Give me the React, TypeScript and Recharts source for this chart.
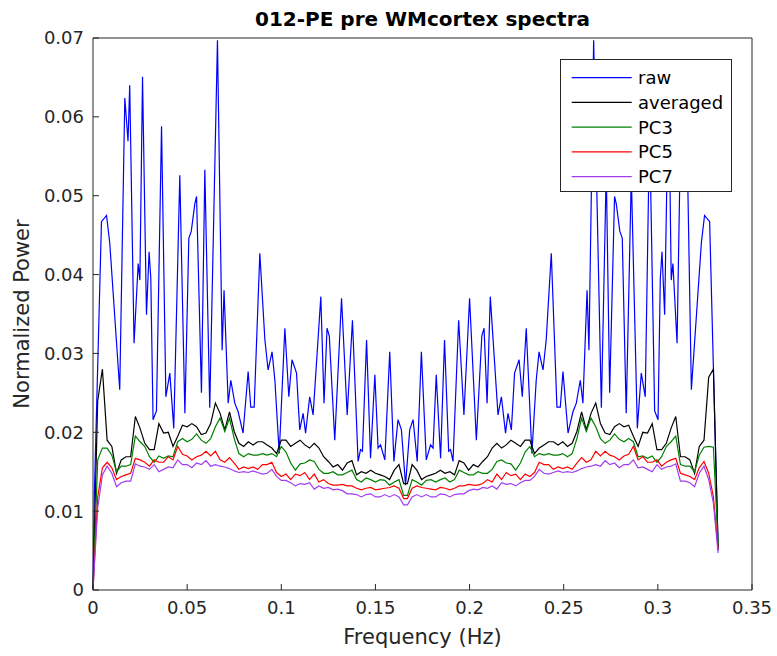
import React from 'react';
import { LineChart, Line, XAxis, YAxis, Legend, Label } from 'recharts';

// frequency grid (Hz) used by the averaged / PC spectra
const gridFreq = [
  0, 0.0025, 0.005, 0.0075, 0.01, 0.0125, 0.015, 0.0175, 0.02, 0.0225, 0.025, 0.0275, 0.03, 0.0325, 0.035, 0.0375,
  0.04, 0.0425, 0.045, 0.0475, 0.05, 0.0525, 0.055, 0.0575, 0.06, 0.0625, 0.065, 0.0675, 0.07, 0.0725, 0.075, 0.0775,
  0.08, 0.0825, 0.085, 0.0875, 0.09, 0.0925, 0.095, 0.0975, 0.1, 0.1025, 0.105, 0.1075, 0.11, 0.1125, 0.115, 0.1175,
  0.12, 0.1225, 0.125, 0.1275, 0.13, 0.1325, 0.135, 0.1375, 0.14, 0.1425, 0.145, 0.1475, 0.15, 0.1525, 0.155, 0.1575,
  0.16, 0.1625, 0.165,
  0.167, 0.1695, 0.172, 0.1745, 0.177, 0.1795, 0.182, 0.1845, 0.187, 0.1895, 0.192, 0.1945, 0.197, 0.1995, 0.202,
  0.2045, 0.207, 0.2095, 0.212, 0.2145, 0.217, 0.2195, 0.222, 0.2245, 0.227, 0.2295, 0.232, 0.2345, 0.237, 0.2395,
  0.242, 0.2445, 0.247, 0.2495, 0.252, 0.2545, 0.257, 0.2595, 0.262, 0.2645, 0.267, 0.2695, 0.272, 0.2745, 0.277,
  0.2795, 0.282, 0.2845, 0.287, 0.2895, 0.292, 0.2945, 0.297, 0.2995, 0.302, 0.3045, 0.307, 0.3095, 0.312, 0.3145,
  0.317, 0.3195, 0.322, 0.3245, 0.327, 0.3295, 0.332,
];

const avgPower = [
  0, 0.024, 0.028, 0.019, 0.0182, 0.0148, 0.0165, 0.0169, 0.0169, 0.022,
  0.0205, 0.0186, 0.0178, 0.0178, 0.0211, 0.0199, 0.02, 0.0182, 0.0195, 0.0209,
  0.0207, 0.0211, 0.0207, 0.0197, 0.0199, 0.0211, 0.0237, 0.0224, 0.0203, 0.0226,
  0.0201, 0.0186, 0.0182, 0.0188, 0.0184, 0.0188, 0.0188, 0.0184, 0.018, 0.0173,
  0.019, 0.019, 0.0182, 0.0186, 0.019, 0.0184, 0.018, 0.0186, 0.018, 0.0169,
  0.0163, 0.0156, 0.0159, 0.0152, 0.0161, 0.0164, 0.0146, 0.015, 0.0148, 0.0152,
  0.0148, 0.0146, 0.0144, 0.014, 0.0152, 0.0159, 0.0135,
  0.0135, 0.0159, 0.0152, 0.014, 0.0144, 0.0146, 0.0148,
  0.0152, 0.0148, 0.015, 0.0146, 0.0164, 0.0161, 0.0152, 0.0159, 0.0156, 0.0163,
  0.0169, 0.018, 0.0186, 0.018, 0.0184, 0.019, 0.0186, 0.0182, 0.019, 0.019,
  0.0173, 0.018, 0.0184, 0.0188, 0.0188, 0.0184, 0.0188, 0.0182, 0.0186, 0.0201,
  0.0226, 0.0203, 0.0224, 0.0237, 0.0211, 0.0199, 0.0197, 0.0207, 0.0211, 0.0207,
  0.0209, 0.0195, 0.0182, 0.02, 0.0199, 0.0211, 0.0178, 0.0178, 0.0186, 0.0205,
  0.022, 0.0169, 0.0169, 0.0165, 0.0148, 0.0182,
  0.019, 0.027, 0.028, 0.0055,
];

const pc3Power = [
  0, 0.0165, 0.018, 0.018, 0.0171, 0.015, 0.0157, 0.0157, 0.0159, 0.0195,
  0.0188, 0.0182, 0.0169, 0.0162, 0.017, 0.0167, 0.017, 0.0169, 0.0188, 0.0192,
  0.0188, 0.0191, 0.0198, 0.019, 0.0186, 0.0192, 0.0207, 0.0218, 0.0201, 0.0218,
  0.0192, 0.0173, 0.0169, 0.0173, 0.0171, 0.0171, 0.0173, 0.0171, 0.0173, 0.0169,
  0.0182, 0.0175, 0.0161, 0.0152, 0.016, 0.0161, 0.0165, 0.0163, 0.0153, 0.0148,
  0.0148, 0.015, 0.0146, 0.0146, 0.0149, 0.0152, 0.014, 0.0137, 0.0142, 0.014,
  0.0137, 0.014, 0.0139, 0.0133, 0.0137, 0.014, 0.012,
  0.012, 0.014, 0.0137, 0.0133, 0.0139, 0.014, 0.0137,
  0.014, 0.0142, 0.0137, 0.014, 0.0152, 0.0149, 0.0146, 0.0146, 0.015, 0.0148,
  0.0148, 0.0153, 0.0163, 0.0165, 0.0161, 0.016, 0.0152, 0.0161, 0.0175, 0.0182,
  0.0169, 0.0173, 0.0171, 0.0173, 0.0171, 0.0171, 0.0173, 0.0169, 0.0173, 0.0192,
  0.0218, 0.0201, 0.0218, 0.0207, 0.0192, 0.0186, 0.019, 0.0198, 0.0191, 0.0188,
  0.0192, 0.0188, 0.0169, 0.017, 0.0167, 0.017, 0.0162, 0.0169, 0.0182, 0.0188,
  0.0195, 0.0159, 0.0157, 0.0157, 0.015, 0.0171,
  0.0181, 0.0182, 0.0181, 0.0058,
];

const pc5Power = [
  0, 0.0118, 0.0155, 0.0162, 0.0155, 0.014, 0.0144, 0.0146, 0.0148, 0.0167,
  0.0165, 0.0162, 0.0157, 0.0165, 0.0162, 0.0162, 0.0169, 0.0165, 0.0182, 0.0172,
  0.017, 0.0165, 0.0169, 0.0171, 0.0176, 0.017, 0.0176, 0.0165, 0.0162, 0.0168,
  0.0161, 0.0153, 0.0156, 0.0154, 0.0156, 0.0153, 0.0159, 0.0159, 0.0162, 0.0149,
  0.0144, 0.0147, 0.014, 0.0147, 0.0145, 0.0149, 0.014, 0.0147, 0.0137, 0.014,
  0.0135, 0.0133, 0.0133, 0.0134, 0.0132, 0.0132, 0.0129, 0.0127, 0.0129, 0.013,
  0.0127, 0.0128, 0.0129, 0.013, 0.0132, 0.0129, 0.0116,
  0.0116, 0.0129, 0.0132, 0.013, 0.0129, 0.0128, 0.0127,
  0.013, 0.0129, 0.0127, 0.0129, 0.0132, 0.0132, 0.0134, 0.0133, 0.0133, 0.0135,
  0.014, 0.0137, 0.0147, 0.014, 0.0149, 0.0145, 0.0147, 0.014, 0.0147, 0.0144,
  0.0149, 0.0162, 0.0159, 0.0159, 0.0153, 0.0156, 0.0154, 0.0156, 0.0153, 0.0161,
  0.0168, 0.0162, 0.0165, 0.0176, 0.017, 0.0176, 0.0171, 0.0169, 0.0165, 0.017,
  0.0172, 0.0182, 0.0165, 0.0169, 0.0162, 0.0162, 0.0165, 0.0157, 0.0162, 0.0165,
  0.0167, 0.0148, 0.0146, 0.0144, 0.014, 0.0155,
  0.0163, 0.0148, 0.0118, 0.0052,
];

const pc7Power = [
  0, 0.0104, 0.0146, 0.0157, 0.0148, 0.0131, 0.0136, 0.0138, 0.0138, 0.016,
  0.0157, 0.0156, 0.0153, 0.0159, 0.015, 0.0153, 0.0156, 0.0155, 0.0165, 0.0159,
  0.0159, 0.0155, 0.0161, 0.0159, 0.0164, 0.0157, 0.0159, 0.0157, 0.0156, 0.0154,
  0.0151, 0.0149, 0.015, 0.0149, 0.0151, 0.0149, 0.0147, 0.0148, 0.0153, 0.0144,
  0.0139, 0.0139, 0.0136, 0.0132, 0.0135, 0.0134, 0.0136, 0.0128, 0.0132, 0.0129,
  0.013, 0.0127, 0.0128, 0.0126, 0.0122, 0.0122, 0.0121, 0.0118, 0.0121, 0.0122,
  0.0118, 0.0118, 0.0121, 0.0118, 0.0121, 0.0118, 0.0108,
  0.0108, 0.0118, 0.0121, 0.0118, 0.0121, 0.0118, 0.0118,
  0.0122, 0.0121, 0.0118, 0.0121, 0.0122, 0.0122, 0.0126, 0.0128, 0.0127, 0.013,
  0.0129, 0.0132, 0.0128, 0.0136, 0.0134, 0.0135, 0.0132, 0.0136, 0.0139, 0.0139,
  0.0144, 0.0153, 0.0148, 0.0147, 0.0149, 0.0151, 0.0149, 0.015, 0.0149, 0.0151,
  0.0154, 0.0156, 0.0157, 0.0159, 0.0157, 0.0164, 0.0159, 0.0161, 0.0155, 0.0159,
  0.0159, 0.0165, 0.0155, 0.0156, 0.0153, 0.015, 0.0159, 0.0153, 0.0156, 0.0157,
  0.016, 0.0138, 0.0138, 0.0136, 0.0131, 0.0148,
  0.0157, 0.014, 0.011, 0.0047,
];

// raw spectrum, read at its peaks and troughs
const rawFreq = [
  0, 0.0007, 0.0045, 0.0072, 0.0089, 0.0142, 0.0169, 0.0186, 0.0195, 0.0218, 0.024, 0.0249, 0.0263, 0.0284, 0.0298,
  0.0307, 0.0319, 0.0337, 0.0364, 0.0387, 0.0408, 0.0429, 0.0461, 0.0488, 0.0509, 0.0522, 0.0541, 0.055, 0.0576,
  0.0594, 0.062, 0.0661, 0.0686, 0.0696, 0.0718, 0.0732, 0.0753, 0.0771, 0.0797, 0.0824, 0.0838, 0.0856, 0.0886,
  0.0913, 0.093, 0.0951, 0.0966, 0.0989, 0.1019, 0.104, 0.1057, 0.1081, 0.1098, 0.1116, 0.1129, 0.1151, 0.1169,
  0.121, 0.1227, 0.1243, 0.1255, 0.1284, 0.132, 0.135, 0.1378, 0.1408, 0.1421, 0.1431, 0.1453, 0.1474, 0.1497,
  0.1514, 0.1527, 0.155, 0.1576, 0.1598, 0.162, 0.1638, 0.166,
  0.1682, 0.17, 0.1722, 0.1744, 0.177, 0.1793, 0.1806, 0.1823, 0.1846, 0.1867, 0.1889, 0.1899, 0.1912, 0.1942,
  0.197, 0.2, 0.2036, 0.2065, 0.2077, 0.2093, 0.211, 0.2151, 0.2169, 0.2191, 0.2204, 0.2222, 0.2239, 0.2263, 0.228,
  0.2301, 0.2331, 0.2354, 0.2369, 0.239, 0.2407, 0.2434, 0.2464, 0.2482, 0.2496, 0.2523, 0.2549, 0.2567, 0.2588,
  0.2602, 0.2624, 0.2634, 0.2659, 0.27, 0.2726, 0.2744, 0.277, 0.2779, 0.2798, 0.2811, 0.2832, 0.2859, 0.2891,
  0.2912, 0.2933, 0.2956, 0.2983, 0.3001, 0.3013, 0.3022, 0.3036, 0.3057, 0.3071, 0.308, 0.3102, 0.3125, 0.3134,
  0.3151, 0.3178, 0.3231, 0.3248, 0.3275, 0.332,
];

const rawPower = [
  0, 0.012, 0.0467, 0.0475, 0.044, 0.0254, 0.0624, 0.0569, 0.064, 0.0313, 0.0414, 0.0393, 0.0651, 0.0349, 0.0429,
  0.0395, 0.0216, 0.0227, 0.0588, 0.0245, 0.0275, 0.0205, 0.0526, 0.0224, 0.0446, 0.0455, 0.049, 0.0499, 0.025,
  0.0533, 0.0231, 0.0697, 0.0304, 0.038, 0.0237, 0.0266, 0.0237, 0.0226, 0.0199, 0.0277, 0.0232, 0.0232, 0.0427,
  0.0317, 0.0279, 0.0302, 0.0266, 0.0173, 0.0332, 0.0245, 0.0292, 0.0275, 0.0203, 0.0224, 0.0199, 0.0245, 0.0222,
  0.0372, 0.0237, 0.0332, 0.0322, 0.019, 0.037, 0.0222, 0.0342, 0.0163, 0.0178, 0.0176, 0.0317, 0.0167, 0.0273,
  0.018, 0.0184, 0.0165, 0.0302, 0.0163, 0.0216, 0.0203, 0.0133,
  0.0203, 0.0216, 0.0163, 0.0302, 0.0165, 0.0184, 0.018, 0.0273, 0.0167, 0.0317, 0.0176, 0.0178, 0.0163, 0.0342,
  0.0222, 0.037, 0.019, 0.0322, 0.0332, 0.0237, 0.0372, 0.0222, 0.0245, 0.0199, 0.0224, 0.0203, 0.0275, 0.0292, 0.0245,
  0.0332, 0.0173, 0.0266, 0.0302, 0.0279, 0.0317, 0.0427, 0.0232, 0.0232, 0.0277, 0.0199, 0.0226, 0.0237, 0.0266,
  0.0237, 0.038, 0.0304, 0.0697, 0.0231, 0.0533, 0.025, 0.0499, 0.049, 0.0455, 0.0446, 0.0224, 0.0526, 0.0205,
  0.0275, 0.0245, 0.0588, 0.0227, 0.0216, 0.0395, 0.0429, 0.0349, 0.0651, 0.0393, 0.0414, 0.0313, 0.064, 0.0569,
  0.0624, 0.0254, 0.044, 0.0475, 0.0467, 0.005,
];

const xTicks = [0, 0.05, 0.1, 0.15, 0.2, 0.25, 0.3, 0.35];
const yTicks = [0, 0.01, 0.02, 0.03, 0.04, 0.05, 0.06, 0.07];

const FONT = '"DejaVu Sans", sans-serif';
const AXIS = '#262626';

const pts = (xs: number[], ys: number[]) => xs.map((x, i) => ({ x, y: ys[i] }));

const series = [
  { name: 'raw', color: '#0000ff', data: pts(rawFreq, rawPower) },
  { name: 'averaged', color: '#000000', data: pts(gridFreq, avgPower) },
  { name: 'PC3', color: '#008000', data: pts(gridFreq, pc3Power) },
  { name: 'PC5', color: '#ff0000', data: pts(gridFreq, pc5Power) },
  { name: 'PC7', color: '#a03cf0', data: pts(gridFreq, pc7Power) },
];
const order = series.map((s) => s.name);

function LegendBox(props: any) {
  const items = [...(props.payload || [])].sort(
    (a: any, b: any) => order.indexOf(a.value) - order.indexOf(b.value)
  );
  return (
    <svg width={172} height={133} style={{ display: 'block' }}>
      <rect x={0.5} y={0.5} width={171} height={132} fill="#fff" stroke={AXIS} />
      {items.map((it: any, i: number) => {
        const cy = 18.7 + 24.75 * i;
        return (
          <g key={it.value}>
            <line x1={11.7} x2={71.7} y1={cy} y2={cy} stroke={it.color} strokeWidth={1.2} />
            <text x={78} y={cy} dy="0.36em" fontSize={18} fontFamily={FONT} fill="#000">
              {it.value}
            </text>
          </g>
        );
      })}
    </svg>
  );
}

export default function App() {
  const tickStyle = { fill: AXIS, fontSize: 18, fontFamily: FONT };
  return (
    <div style={{ position: 'absolute', left: 0, top: 0, width: 777, height: 656, background: '#fff' }}>
      <LineChart width={777} height={656} margin={{ top: 37, right: 24, bottom: 36, left: 33 }}>
        <XAxis
          dataKey="x"
          type="number"
          domain={[0, 0.35]}
          ticks={xTicks}
          interval={0}
          tickSize={-6}
          tickMargin={17}
          height={30}
          stroke={AXIS}
          tick={tickStyle}
        >
          <Label value="Frequency (Hz)" position="bottom" offset={9} fill={AXIS} fontSize={21} fontFamily={FONT} />
        </XAxis>
        <XAxis
          xAxisId="top"
          orientation="top"
          dataKey="x"
          type="number"
          domain={[0, 0.35]}
          ticks={xTicks}
          interval={0}
          tickSize={-6}
          tick={false}
          height={1}
          stroke={AXIS}
        >
          <Label
            value="012-PE pre WMcortex spectra"
            position="top"
            offset={11}
            fill="#000"
            fontSize={20}
            fontWeight="bold"
            fontFamily={FONT}
          />
        </XAxis>
        <YAxis
          type="number"
          domain={[0, 0.07]}
          ticks={yTicks}
          interval={0}
          tickSize={-6}
          tickMargin={15}
          width={60}
          stroke={AXIS}
          tick={tickStyle}
        >
          <Label
            value="Normalized Power"
            angle={-90}
            position="center"
            dx={-41}
            fill={AXIS}
            fontSize={21}
            fontFamily={FONT}
          />
        </YAxis>
        <YAxis
          yAxisId="right"
          orientation="right"
          type="number"
          domain={[0, 0.07]}
          ticks={yTicks}
          interval={0}
          tickSize={-6}
          tick={false}
          width={1}
          stroke={AXIS}
        />
        {series.map((s) => (
          <Line
            key={s.name}
            name={s.name}
            data={s.data}
            dataKey="y"
            type="linear"
            stroke={s.color}
            strokeWidth={1.2}
            dot={false}
            activeDot={false}
            isAnimationActive={false}
          />
        ))}
        <Legend
          layout="horizontal"
          verticalAlign="middle"
          align="center"
          content={<LegendBox />}
          wrapperStyle={{ left: 560, top: 59, width: 172, height: 133 }}
        />
      </LineChart>
    </div>
  );
}
